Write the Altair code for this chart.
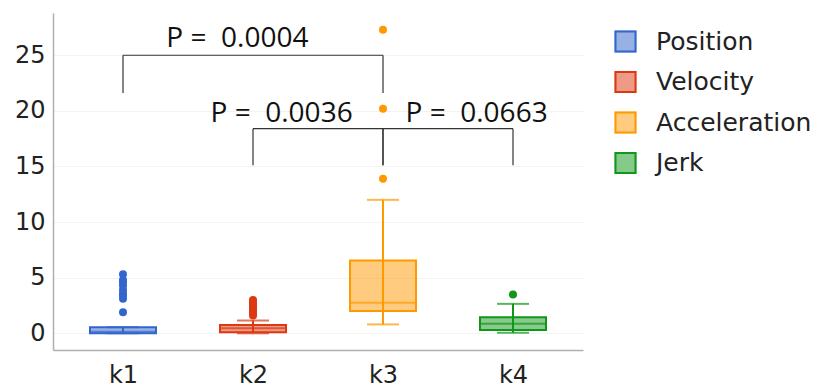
import altair as alt
import pandas as pd

# Groups and the quantity each one represents
categories = ["k1", "k2", "k3", "k4"]
series = ["Position", "Velocity", "Acceleration", "Jerk"]
palette = ["#3366CC", "#DC3912", "#FF9900", "#109618"]

# Box-plot summary per group
lower_fence = [0.0, 0.0, 0.8, 0.05]
q1 = [0.0, 0.1, 2.0, 0.3]
median = [0.15, 0.45, 2.75, 0.85]
q3 = [0.55, 0.75, 6.55, 1.45]
upper_fence = [0.55, 1.15, 12.0, 2.65]

# Outlying observations per group
k1_outliers = [1.9, 3.1, 3.4, 3.6, 3.9, 4.3, 4.6, 4.8, 5.3]
k2_outliers = [1.6, 1.8, 2.0, 2.2, 2.4, 2.6, 2.8, 3.0]
k3_outliers = [13.9, 20.2, 27.3]
k4_outliers = [3.5]

# Pairwise comparisons (significance brackets)
bracket_from = ["k1", "k2", "k3"]
bracket_to = ["k3", "k3", "k4"]
bracket_top = [25.0, 18.4, 18.4]
bracket_foot = [21.6, 15.1, 15.1]
p_values = ["0.0004", "0.0036", "0.0663"]
# where each p-value caption sits (group-index units, value units)
label_x = [0.88, 1.22, 2.72]
label_y = [25.7, 19.0, 19.0]

idx = {c: i for i, c in enumerate(categories)}

boxes = pd.DataFrame({
    "group": categories,
    "pos": [idx[c] for c in categories],
    "series": series,
    "lo": lower_fence,
    "q1": q1,
    "med": median,
    "q3": q3,
    "hi": upper_fence,
})

out_rows = []
for cat, ser, vals in zip(categories, series,
                          [k1_outliers, k2_outliers, k3_outliers, k4_outliers]):
    for v in vals:
        out_rows.append({"pos": idx[cat], "series": ser, "value": v})
points = pd.DataFrame(out_rows)

brackets = pd.DataFrame({
    "a": [idx[c] for c in bracket_from],
    "b": [idx[c] for c in bracket_to],
    "top": bracket_top,
    "foot": bracket_foot,
})

captions = pd.DataFrame({
    "x": label_x,
    "y": label_y,
    "text": ["P = \u00a0" + p for p in p_values],
})

FONT = "DejaVu Sans"

x_scale = alt.Scale(domain=[-0.5, 3.5], nice=False, zero=False)
x_enc = alt.X(
    "pos:Q",
    scale=x_scale,
    axis=alt.Axis(
        values=[0, 1, 2, 3],
        labelExpr="['k1','k2','k3','k4'][datum.value]",
        title=None, grid=False, ticks=False, labelPadding=13,
    ),
)
y_scale = alt.Scale(domain=[-1.5, 28.8], nice=False, zero=False)
y_axis = alt.Axis(values=[0, 5, 10, 15, 20, 25], title=None, grid=True,
                  ticks=False, labelPadding=8)

legend_common = dict(
    title=None,
    symbolType="square",
    symbolSize=400,
    symbolStrokeWidth=2,
    labelFont=FONT,
    labelFontSize=25,
    labelColor="#222222",
    labelOffset=18,
    rowPadding=11.5,
    orient="none",
    legendX=560,
    legendY=16,
)
# outline swatches carry the labels; a translucent swatch sits underneath
legend_outline = alt.Legend(symbolFillColor="transparent", **legend_common)
legend_fill = alt.Legend(symbolStrokeColor="transparent", symbolOpacity=0.5,
                         labelOpacity=0, **legend_common)

color_scale = alt.Scale(domain=series, range=palette)
color = alt.Color("series:N", scale=color_scale, legend=None)

base = alt.Chart(boxes)

# box: translucent fill with a solid outline of the same hue
box = base.mark_bar(width=66, fillOpacity=0.5, strokeWidth=2).encode(
    x=x_enc,
    y=alt.Y("q1:Q", scale=y_scale, axis=y_axis),
    y2="q3:Q",
    fill=alt.Fill("series:N", scale=alt.Scale(domain=series, range=palette),
                  legend=legend_fill),
    stroke=alt.Stroke("series:N", sort=None, scale=alt.Scale(range=palette),
                      legend=legend_outline),
)
whisker = base.mark_rule(strokeWidth=2).encode(
    x=x_enc,
    y=alt.Y("lo:Q", scale=y_scale),
    y2="hi:Q",
    color=color,
)
cap_lo = base.mark_tick(orient="horizontal", size=32, thickness=2).encode(
    x=x_enc, y=alt.Y("lo:Q", scale=y_scale), color=color)
cap_hi = base.mark_tick(orient="horizontal", size=32, thickness=2).encode(
    x=x_enc, y=alt.Y("hi:Q", scale=y_scale), color=color)
mid = base.mark_tick(orient="horizontal", size=66, thickness=2).encode(
    x=x_enc, y=alt.Y("med:Q", scale=y_scale), color=color)

dots = alt.Chart(points).mark_circle(size=64, opacity=1).encode(
    x=x_enc, y=alt.Y("value:Q", scale=y_scale), color=color)

bk = alt.Chart(brackets)
bar_h = bk.mark_rule(color="#333333", strokeWidth=1.2).encode(
    x=alt.X("a:Q", scale=x_scale),
    x2="b:Q",
    y=alt.Y("top:Q", scale=y_scale),
)
leg_a = bk.mark_rule(color="#333333", strokeWidth=1.2).encode(
    x=alt.X("a:Q", scale=x_scale),
    y=alt.Y("foot:Q", scale=y_scale),
    y2="top:Q",
)
leg_b = bk.mark_rule(color="#333333", strokeWidth=1.2).encode(
    x=alt.X("b:Q", scale=x_scale),
    y=alt.Y("foot:Q", scale=y_scale),
    y2="top:Q",
)

text = alt.Chart(captions).mark_text(
    font="Open Sans", fontSize=28, color="#111111",
    align="center", baseline="alphabetic",
).encode(
    x=alt.X("x:Q", scale=x_scale),
    y=alt.Y("y:Q", scale=y_scale),
    text="text:N",
)

chart = alt.layer(
    box, whisker, cap_lo, cap_hi, mid, dots, bar_h, leg_a, leg_b, text
).properties(
    width=530,
    height=337,
    autosize=alt.AutoSizeParams(type="none"),
    padding={"left": 53, "top": 13, "right": 242, "bottom": 37},
    background="white",
).configure_view(
    stroke=None
).configure_axis(
    labelFont=FONT,
    labelFontSize=24,
    labelColor="#222222",
    domainColor="#b0b0b0",
    domainWidth=1.5,
    gridColor="#f3f3f3",
    gridWidth=1,
)

chart.save("out.html", embed_options={"renderer": "svg", "actions": False})
